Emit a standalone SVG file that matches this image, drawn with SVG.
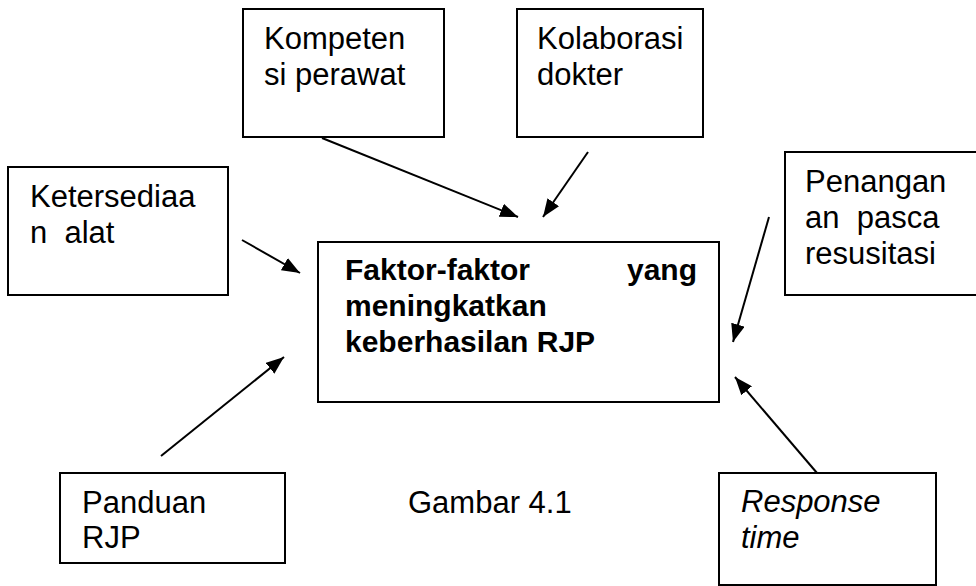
<svg xmlns="http://www.w3.org/2000/svg" width="976" height="586" viewBox="0 0 976 586">
<style>
.box{fill:#fff;stroke:#000;stroke-width:2}
.t{font-family:"Liberation Sans",Arial,sans-serif;font-size:31px;fill:#000}
.b{font-weight:bold;font-size:30px}
.i{font-style:italic}
.c{stroke:#000;stroke-width:2;fill:none;marker-end:url(#ah)}
</style>
<defs>
<marker id="ah" markerUnits="userSpaceOnUse" markerWidth="20" markerHeight="14" refX="18" refY="7" orient="auto">
<path d="M0,0 L18,7 L0,14 z" fill="#000"/>
</marker>
</defs>
<rect width="976" height="586" fill="#fff"/>
<g id="kompetensi">
<rect class="box" x="243" y="9" width="201" height="128"/>
<text class="t" x="264" y="49">Kompeten</text>
<text class="t" x="264" y="85">si perawat</text>
</g>
<g id="kolaborasi">
<rect class="box" x="517" y="9" width="186" height="128"/>
<text class="t" x="537" y="49">Kolaborasi</text>
<text class="t" x="537" y="85">dokter</text>
</g>
<g id="ketersediaan">
<rect class="box" x="8" y="167" width="220" height="128"/>
<text class="t" x="30" y="207">Ketersediaa</text>
<text class="t" x="30" y="243" xml:space="preserve">n  alat</text>
</g>
<g id="penanganan">
<rect class="box" x="785" y="152" width="195" height="143"/>
<text class="t" x="805" y="192">Penangan</text>
<text class="t" x="805" y="228" xml:space="preserve">an  pasca</text>
<text class="t" x="805" y="264">resusitasi</text>
</g>
<g id="faktor">
<rect class="box" x="318" y="242" width="401" height="160"/>
<text class="t b" x="345" y="280">Faktor-faktor</text>
<text class="t b" x="697" y="280" text-anchor="end">yang</text>
<text class="t b" x="345" y="316">meningkatkan</text>
<text class="t b" x="345" y="352">keberhasilan RJP</text>
</g>
<g id="panduan">
<rect class="box" x="60" y="473" width="225" height="90"/>
<text class="t" x="82" y="513">Panduan</text>
<text class="t" x="82" y="548">RJP</text>
</g>
<g id="response">
<rect class="box" x="719" y="473" width="217" height="112"/>
<text class="t i" x="741" y="512">Response</text>
<text class="t i" x="741" y="548">time</text>
</g>
<g id="caption">
<text class="t" x="408" y="513">Gambar 4.1</text>
</g>
<g id="connectors">
<line class="c" x1="322" y1="138" x2="518" y2="217"/>
<line class="c" x1="588" y1="152" x2="543" y2="217"/>
<line class="c" x1="242" y1="240" x2="300" y2="273"/>
<line class="c" x1="161" y1="456" x2="284" y2="357"/>
<line class="c" x1="769" y1="217" x2="733" y2="342"/>
<line class="c" x1="817" y1="473" x2="735" y2="377"/>
</g>
</svg>
